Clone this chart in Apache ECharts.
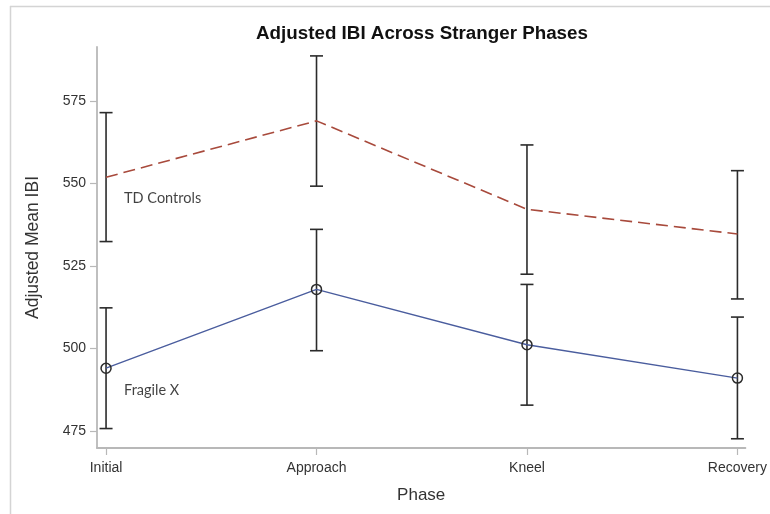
<!DOCTYPE html>
<html>
<head>
<meta charset="utf-8">
<script src="https://cdn.jsdelivr.net/npm/echarts@6/dist/echarts.min.js"></script>
<style>
  html, body { margin: 0; padding: 0; background: #fff; }
  #chart { width: 770px; height: 514px; }
</style>
</head>
<body>
<div id="chart"></div>
<script>
// Phases of the stranger episode
const phases = ['Initial', 'Approach', 'Kneel', 'Recovery'];

// TD Controls: adjusted mean IBI with interval bounds
const tdMean  = [551.9, 569.0, 542.2, 534.7];
const tdLower = [532.4, 549.2, 522.5, 515.0];
const tdUpper = [571.5, 588.7, 561.7, 553.9];

// Fragile X: adjusted mean IBI with interval bounds
const fxMean  = [494.0, 517.9, 501.1, 491.0];
const fxLower = [475.7, 499.3, 482.8, 472.6];
const fxUpper = [512.3, 536.1, 519.4, 509.5];

// Y axis tick labels
const yTicks = [475, 500, 525, 550, 575];

const chart = echarts.init(document.getElementById('chart'), null, { renderer: 'canvas' });

const idx = phases.map((_, i) => i);
const toPoints = arr => arr.map((v, i) => [i, v]);
const toBars = (lo, hi) => lo.map((v, i) => [i, v, hi[i]]);

function errorBarItem(params, api) {
  const x = api.value(0);
  const lo = api.coord([x, api.value(1)]);
  const hi = api.coord([x, api.value(2)]);
  const half = 6.5;
  const style = { stroke: '#2b2b2b', lineWidth: 1.6 };
  return {
    type: 'group',
    children: [
      { type: 'line', shape: { x1: lo[0], y1: lo[1], x2: hi[0], y2: hi[1] }, style },
      { type: 'line', shape: { x1: lo[0] - half, y1: lo[1], x2: lo[0] + half, y2: lo[1] }, style },
      { type: 'line', shape: { x1: hi[0] - half, y1: hi[1], x2: hi[0] + half, y2: hi[1] }, style }
    ]
  };
}

const sans = 'Liberation Sans, Arial, sans-serif';
const tickFont = { fontFamily: sans, fontSize: 14, color: '#333' };

chart.setOption({
  animation: false,
  backgroundColor: '#fff',
  title: {
    text: 'Adjusted IBI Across Stranger Phases',
    left: 417,
    top: 19,
    textAlign: 'center',
    textStyle: { fontFamily: sans, fontSize: 18.8, fontWeight: 'bold', color: '#111' }
  },
  graphic: [
    { type: 'line', shape: { x1: 10, y1: 6.5, x2: 770, y2: 6.5 }, style: { stroke: '#d4d4d4', lineWidth: 1.5 } },
    { type: 'line', shape: { x1: 10.5, y1: 6, x2: 10.5, y2: 514 }, style: { stroke: '#d4d4d4', lineWidth: 1.5 } }
  ],
  grid: { left: 97, right: 24, top: 47, bottom: 66, containLabel: false },
  xAxis: {
    type: 'value',
    min: -0.043,
    max: 3.038,
    name: 'Phase',
    nameLocation: 'middle',
    nameGap: 39,
    nameTextStyle: { fontFamily: sans, fontSize: 17, color: '#333' },
    axisLine: { show: true, onZero: false, lineStyle: { color: '#b8b8b8', width: 1.8 } },
    axisTick: { show: true, customValues: idx, length: 7, lineStyle: { color: '#b8b8b8', width: 1.2 } },
    axisLabel: {
      customValues: idx,
      margin: 13,
      formatter: v => phases[Math.round(v)],
      ...tickFont
    },
    splitLine: { show: false }
  },
  yAxis: {
    type: 'value',
    min: 469.8,
    max: 591.4,
    name: 'Adjusted Mean IBI',
    nameLocation: 'middle',
    nameGap: 55,
    nameTextStyle: { fontFamily: sans, fontSize: 17.5, color: '#333' },
    axisLine: { show: true, onZero: false, lineStyle: { color: '#b8b8b8', width: 1.8 } },
    axisTick: { show: true, customValues: yTicks, length: 7, lineStyle: { color: '#b8b8b8', width: 1.2 } },
    axisLabel: { customValues: yTicks, margin: 11, ...tickFont },
    splitLine: { show: false }
  },
  series: [
    {
      name: 'TD Controls',
      type: 'line',
      data: toPoints(tdMean),
      showSymbol: false,
      symbol: 'none',
      lineStyle: { color: '#a84a3c', width: 1.6, type: [12, 6] },
      z: 3
    },
    {
      name: 'Fragile X',
      type: 'line',
      data: toPoints(fxMean),
      symbol: 'circle',
      symbolSize: 10,
      itemStyle: { color: 'transparent', borderColor: '#2b2b2b', borderWidth: 1.5 },
      lineStyle: { color: '#4a5d9e', width: 1.4 },
      z: 4
    },
    {
      name: 'TD bars',
      type: 'custom',
      renderItem: errorBarItem,
      data: toBars(tdLower, tdUpper),
      encode: { x: 0, y: [1, 2] },
      z: 2
    },
    {
      name: 'FX bars',
      type: 'custom',
      renderItem: errorBarItem,
      data: toBars(fxLower, fxUpper),
      encode: { x: 0, y: [1, 2] },
      z: 2
    },
    {
      // group labels placed next to the first phase
      type: 'scatter',
      symbolSize: 0,
      silent: true,
      data: [
        { value: [0, tdMean[0]], label: { formatter: 'TD Controls', offset: [18, 21] } },
        { value: [0, fxMean[0]], label: { formatter: 'Fragile X', offset: [18, 22] } }
      ],
      label: {
        show: true,
        position: 'inside',
        align: 'left',
        verticalAlign: 'middle',
        fontFamily: 'Lato, Open Sans, sans-serif',
        fontSize: 14.5,
        color: '#111'
      },
      z: 5
    }
  ]
});
</script>
</body>
</html>
